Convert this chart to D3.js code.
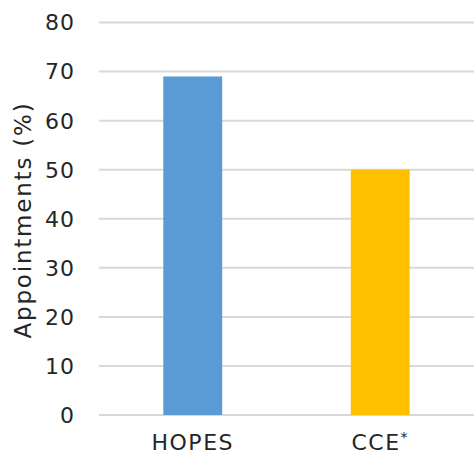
<!DOCTYPE html>
<html>
<head>
<meta charset="utf-8">
<script src="https://cdn.jsdelivr.net/npm/d3@7"></script>
<style>
  body { margin: 0; background: #fff; }
  text { font-family: "DejaVu Sans", sans-serif; fill: #262626; }
</style>
</head>
<body>
<div id="chart"></div>
<script>
// data
var categories = ["HOPES", "CCE*"];
var values = [69, 50];
var barColors = ["#5B9BD5", "#FFC000"];
var yTicks = [0, 10, 20, 30, 40, 50, 60, 70, 80];

var width = 474, height = 455;
var margin = {top: 22, right: 0, bottom: 40, left: 99};

var svg = d3.select("#chart").append("svg")
  .attr("width", width)
  .attr("height", height);

var x = d3.scaleBand()
  .domain(categories)
  .range([margin.left, width])
  .paddingInner(0.686)
  .paddingOuter(0.343);

var y = d3.scaleLinear()
  .domain([0, 80])
  .range([415, 22.5]);

// gridlines
svg.append("g")
  .selectAll("line")
  .data(yTicks)
  .join("line")
  .attr("x1", margin.left)
  .attr("x2", width)
  .attr("y1", d => y(d))
  .attr("y2", d => y(d))
  .attr("stroke", "#d9d9d9")
  .attr("stroke-width", 2);

// y tick labels
svg.append("g")
  .selectAll("text")
  .data(yTicks)
  .join("text")
  .attr("x", 75)
  .attr("y", d => y(d))
  .attr("dy", "0.36em")
  .attr("text-anchor", "end")
  .attr("font-size", "22px")
  .attr("letter-spacing", "1px")
  .text(d => d);

// bars
svg.append("g")
  .selectAll("rect")
  .data(values)
  .join("rect")
  .attr("x", (d, i) => x(categories[i]))
  .attr("width", x.bandwidth())
  .attr("y", d => y(d))
  .attr("height", d => y(0) - y(d))
  .attr("fill", (d, i) => barColors[i]);

// x labels
var xl = svg.append("g")
  .selectAll("text")
  .data(categories)
  .join("text")
  .attr("x", d => x(d) + x.bandwidth() / 2)
  .attr("y", 450)
  .attr("text-anchor", "middle")
  .attr("font-size", "22px")
  .attr("letter-spacing", "1.5px");
xl.each(function(d) {
  var t = d3.select(this);
  if (d.endsWith("*")) {
    t.append("tspan").text(d.slice(0, -1));
    t.append("tspan").attr("font-size", "14px").attr("dy", "-8").text("*");
  } else {
    t.text(d);
  }
});

// y axis title
svg.append("text")
  .attr("transform", "translate(31, 220) rotate(-90)")
  .attr("text-anchor", "middle")
  .attr("font-size", "23px")
  .attr("letter-spacing", "1.8px")
  .text("Appointments (%)");
</script>
</body>
</html>
